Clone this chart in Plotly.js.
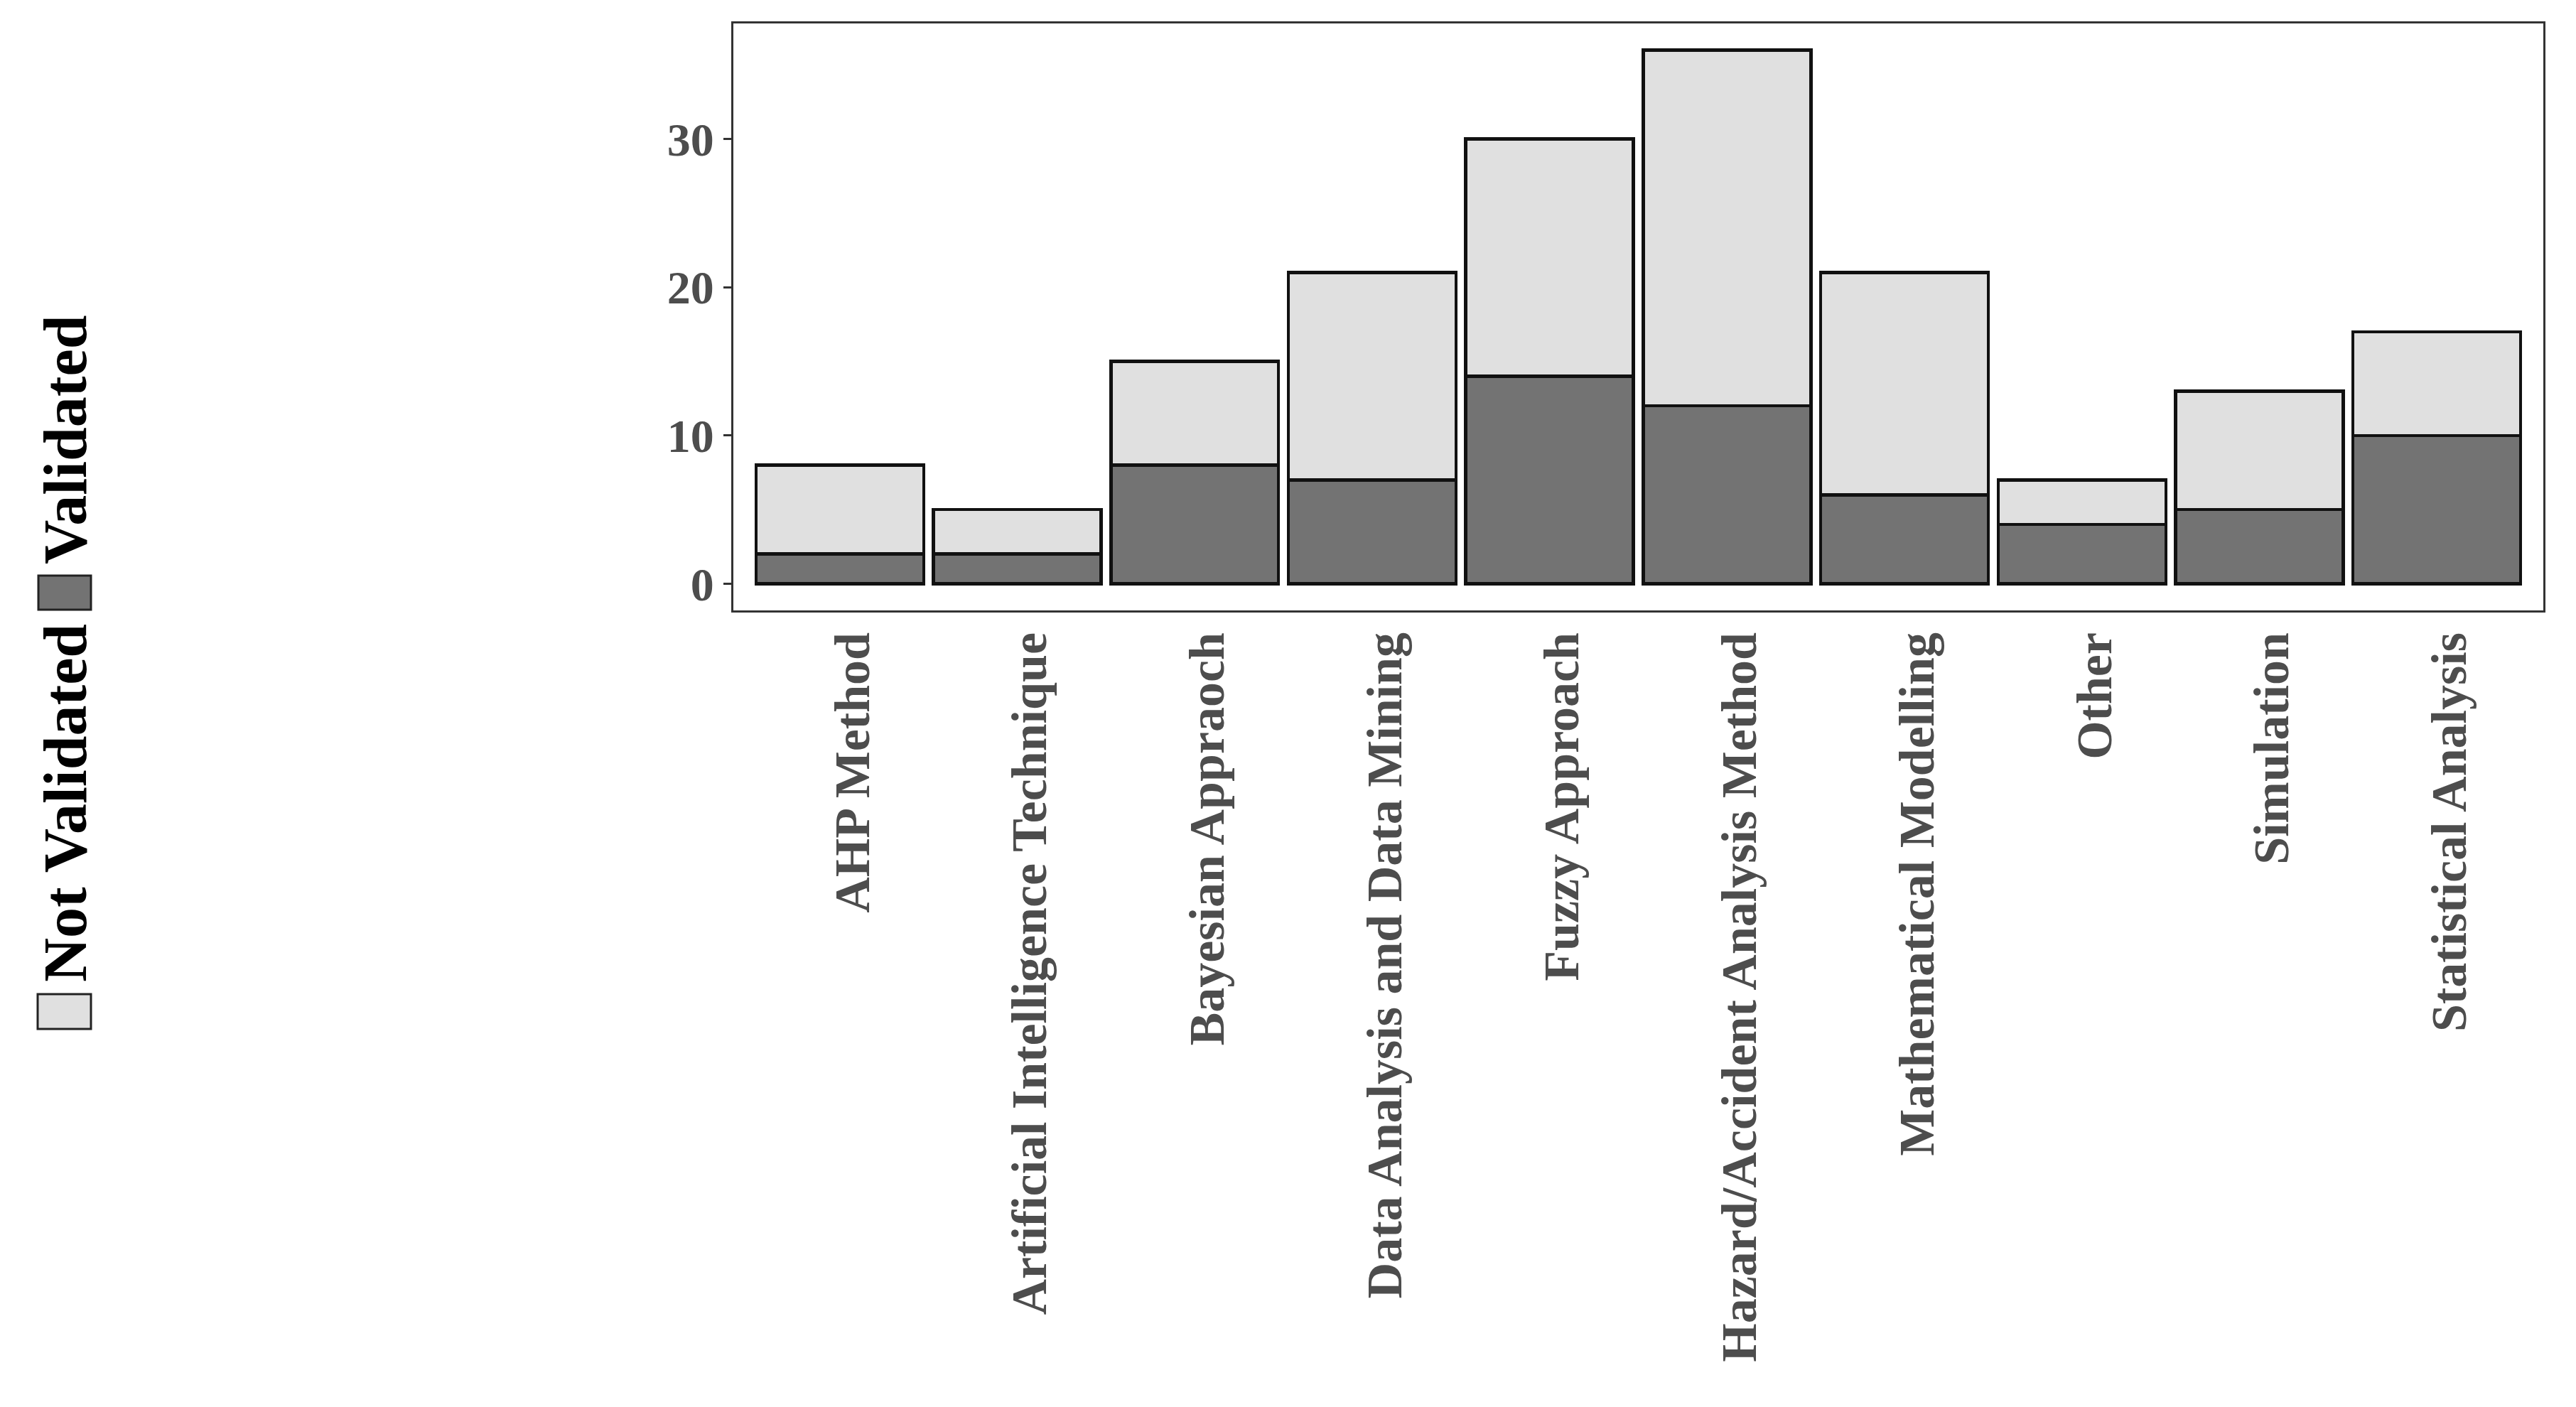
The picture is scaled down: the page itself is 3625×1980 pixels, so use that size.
<!DOCTYPE html>
<html>
<head>
<meta charset="utf-8">
<script src="https://cdn.plot.ly/plotly-3.0.1.min.js"></script>
<style>html,body{margin:0;padding:0;background:#fff;}#chart{width:3625px;height:1980px;}</style>
</head>
<body>
<div id="chart"></div>
<script>
// ---- data ----
var categories = ["AHP Method","Artificial Intelligence Technique","Bayesian Appraoch","Data Analysis and Data Mining","Fuzzy Approach","Hazard/Accident Analysis Method","Mathematical Modelling","Other","Simulation","Statistical Analysis"];
var validated = [2, 2, 8, 7, 14, 12, 6, 4, 5, 10];
var notValidated = [6, 3, 7, 14, 16, 24, 15, 3, 8, 7];
var seriesNames = ["Not Validated", "Validated"];
var yTicks = [0, 10, 20, 30];

var W = 3625, H = 1980;
var mL = 1032, mR = 46, mT = 33, mB = 1121;
var pw = W - mL - mR, ph = H - mT - mB;
function px2x(p){ return (p - mL) / pw; }
function py2y(p){ return (H - mB - p) / ph; }

var FONT = "Liberation Serif, Times New Roman, serif";
var lightCol = "#e0e0e0", darkCol = "#737373";

var traces = [
  {type:"bar", name:seriesNames[1], x:categories, y:validated,
   marker:{color:darkCol, line:{color:"#111", width:4.5}}, showlegend:false},
  {type:"bar", name:seriesNames[0], x:categories, y:notValidated,
   marker:{color:lightCol, line:{color:"#111", width:4.5}}, showlegend:false}
];

var legendCx = 92;
var shapes = [
  {type:"rect", xref:"paper", yref:"paper", x0:px2x(53), x1:px2x(128), y0:py2y(1448), y1:py2y(1399),
   fillcolor:lightCol, line:{color:"#222", width:3}},
  {type:"rect", xref:"paper", yref:"paper", x0:px2x(54), x1:px2x(128), y0:py2y(858), y1:py2y(810),
   fillcolor:darkCol, line:{color:"#222", width:3}}
];
var annotations = [
  {xref:"paper", yref:"paper", x:px2x(legendCx), y:py2y(1384), xanchor:"center", yanchor:"bottom",
   text:"<b>"+seriesNames[0]+"</b>", textangle:-90, showarrow:false,
   font:{family:FONT, size:86, color:"#000"}},
  {xref:"paper", yref:"paper", x:px2x(legendCx), y:py2y(796), xanchor:"center", yanchor:"bottom",
   text:"<b>"+seriesNames[1]+"</b>", textangle:-90, showarrow:false,
   font:{family:FONT, size:86, color:"#000"}}
];

var layout = {
  width: W, height: H,
  margin:{l:mL, r:mR, t:mT, b:mB, pad:0},
  paper_bgcolor:"#fff", plot_bgcolor:"#fff",
  barmode:"stack", bargap:0.055,
  showlegend:false,
  font:{family:FONT, color:"#4d4d4d"},
  xaxis:{
    type:"category", range:[-0.6, 9.6], tickangle:-90,
    tickvals:categories, ticktext:categories.map(function(c){return "<b>"+c+"</b>";}),
    tickfont:{family:FONT, size:70, color:"#4d4d4d"},
    ticks:"", ticklabelshift:18, ticklabelstandoff:0,
    showgrid:false, zeroline:false,
    showline:true, linecolor:"#333", linewidth:3, mirror:true
  },
  yaxis:{
    range:[-1.8, 37.8], tickvals:yTicks, ticktext:yTicks.map(function(v){return "<b>"+v+"</b>";}),
    tickfont:{family:FONT, size:66, color:"#4d4d4d"},
    ticks:"outside", ticklen:11, tickwidth:3, tickcolor:"#333",
    showgrid:false, zeroline:false,
    showline:true, linecolor:"#333", linewidth:3, mirror:true
  },
  shapes: shapes,
  annotations: annotations
};

Plotly.newPlot("chart", traces, layout, {staticPlot:true, displayModeBar:false});
</script>
</body>
</html>
